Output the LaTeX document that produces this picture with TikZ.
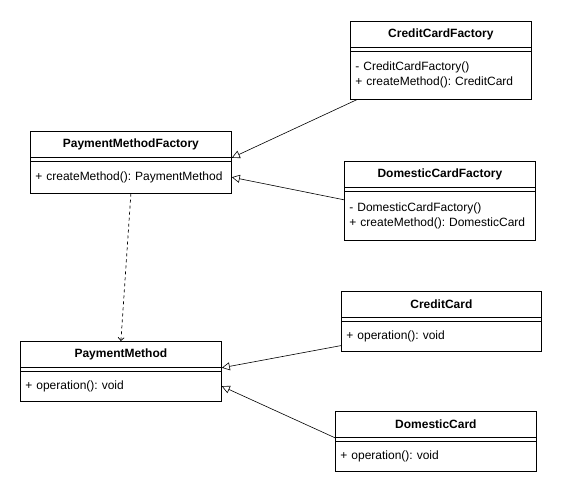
\documentclass[tikz,border=0pt]{standalone}
\usepackage{fontspec}
\setmainfont{Liberation Sans}
\usepackage{tikz}
\usetikzlibrary{positioning, arrows.meta}
\tikzstyle{classtitle} = [rectangle, draw=black, anchor=north west,
font=\fontsize{12pt}{15pt}\selectfont\bfseries, minimum height=26pt,
inner sep=0pt, text centered]
\tikzstyle{classbody} = [rectangle, draw=black, align=left,
font=\fontsize{12pt}{15pt}\selectfont, inner xsep=5pt, inner ysep=0pt]
\tikzstyle{inherit} = [line width=0.6pt, -{Triangle[open,length=8pt,width=8pt]}]
\tikzstyle{depend} = [line width=0.7pt, dash pattern=on 3pt off 3pt,
-{Straight Barb[length=3pt,width=6pt]}]
\frenchspacing

\begin{document}
\begin{tikzpicture}[x=1pt, y=-1pt, line width=0.8pt]
  \useasboundingbox (0,0) rectangle (561,494);
  % factories
  \node [classtitle, minimum width=201pt] (pmft) at (30,131) {PaymentMethodFactory};
  \node [classbody, text width=191pt, minimum height=32pt, below=3pt of pmft] (pmfb)
    {+ createMethod(): PaymentMethod};
  \node [classtitle, minimum width=181pt] (ccft) at (350,21) {CreditCardFactory};
  \node [classbody, text width=171pt, minimum height=48pt, below=3pt of ccft] (ccfb)
    {- CreditCardFactory()\\+ createMethod(): CreditCard};
  \node [classtitle, minimum width=191pt] (dcft) at (344,161) {DomesticCardFactory};
  \node [classbody, text width=181pt, minimum height=49pt, below=3pt of dcft] (dcfb)
    {- DomesticCardFactory()\\+ createMethod(): DomesticCard};
  % products
  \node [classtitle, minimum width=201pt] (pmt) at (20,341) {PaymentMethod};
  \node [classbody, text width=191pt, minimum height=30pt, below=3pt of pmt] (pmb)
    {+ operation(): void};
  \node [classtitle, minimum width=200pt] (cct) at (341,291) {CreditCard};
  \node [classbody, text width=190pt, minimum height=30pt, below=3pt of cct] (ccb)
    {+ operation(): void};
  \node [classtitle, minimum width=201pt] (dct) at (335,411) {DomesticCard};
  \node [classbody, text width=191pt, minimum height=30pt, below=3pt of dct] (dcb)
    {+ operation(): void};
  \foreach \c in {pmf,ccf,dcf,pm,cc,dc}
    \draw (\c t.south west) -- (\c b.north west) (\c t.south east) -- (\c b.north east);
  % relations
  \draw [inherit] ([xshift=7pt]ccfb.south west) -- (pmft.south east);
  \draw [inherit] ([yshift=-9pt]dcfb.north west) -- (pmfb.east);
  \draw [inherit] ([yshift=6pt]ccb.south west) -- (pmt.south east);
  \draw [inherit] (dct.south west) -- (pmb.east);
  \draw [depend] (pmfb.south) -- (pmt.north);
\end{tikzpicture}
\end{document}
